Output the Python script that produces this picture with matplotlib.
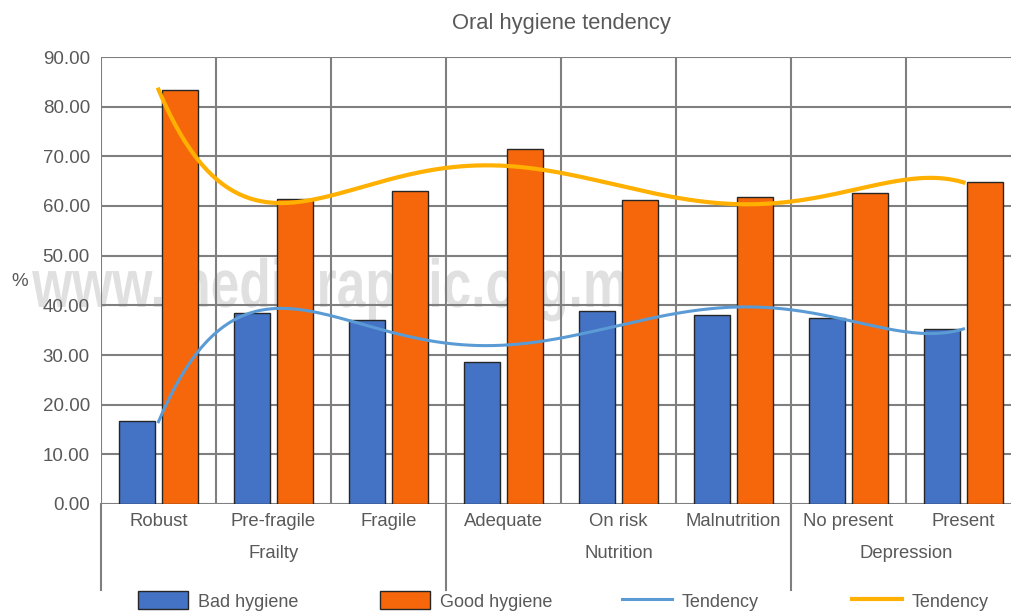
import numpy as np
import matplotlib.pyplot as plt
from matplotlib.patches import Patch, PathPatch
from matplotlib.lines import Line2D
from matplotlib.textpath import TextPath
from matplotlib.font_manager import FontProperties
from matplotlib.transforms import Affine2D

# data
categories = ['Robust', 'Pre-fragile', 'Fragile', 'Adequate', 'On risk',
              'Malnutrition', 'No present', 'Present']
groups = ['Frailty', 'Nutrition', 'Depression']
group_span = [(0, 2), (3, 5), (6, 7)]
bad_hygiene = [16.7, 38.5, 37.0, 28.6, 38.9, 38.1, 37.4, 35.2]
good_hygiene = [83.3, 61.5, 63.0, 71.5, 61.2, 61.9, 62.6, 64.8]
yticks = [0, 10, 20, 30, 40, 50, 60, 70, 80, 90]

plt.rcParams['font.family'] = ['Liberation Sans', 'DejaVu Sans']
txt = '#595959'
grid = '#7f7f7f'
blue, orange = '#4472C4', '#F5670A'
tblue, torange = '#5B9BD5', '#FFB000'

fig = plt.figure(figsize=(10.11, 6.12), dpi=100)
W, H = 1011, 612
ax = fig.add_axes([101 / W, (H - 504) / H, 920 / W, 447 / H])
ax.set_zorder(1)
ax.patch.set_alpha(0)

# condensed watermark behind everything (pixel coordinates)
tp = TextPath((0, 0), 'www.medigraphic.org.mx', size=68,
              prop=FontProperties(family='Liberation Sans', weight='bold'))
ext = tp.get_extents()
sx = 625 / ext.width
wm = Affine2D().translate(-ext.x0, 0).scale(sx, 1).translate(32, H - 307)
fig.patches.append(PathPatch(tp, transform=wm, facecolor='#e0e0e0', edgecolor='none',
                             zorder=0, figure=fig))

x = np.arange(len(categories))
bw = 0.313
ax.bar(x - 0.19, bad_hygiene, bw, color=blue, edgecolor='#262626', lw=1, zorder=3)
ax.bar(x + 0.19, good_hygiene, bw, color=orange, edgecolor='#262626', lw=1, zorder=3)

# polynomial trend lines
xs = np.linspace(0, 7, 300)
pb = np.polyfit(x, bad_hygiene, 5)
pg = np.polyfit(x, good_hygiene, 5)
ax.plot(xs, np.polyval(pb, xs), color=tblue, lw=2.2, zorder=4)
ax.plot(xs, np.polyval(pg, xs), color=torange, lw=3, zorder=4)

ax.set_xlim(-0.5, 7.5)
ax.set_ylim(0, 90)
ax.set_yticks(yticks)
ax.set_yticklabels(['%.2f' % v for v in yticks])
ax.tick_params(axis='y', length=0, pad=8, labelsize=13.5, labelcolor=txt)
ax.set_xticks([])
for s in ax.spines.values():
    s.set_visible(False)
for v in yticks:
    ax.axhline(v, color=grid, lw=1.5, zorder=1)
for k in range(9):
    ax.axvline(k - 0.5, color=grid, lw=1.5, zorder=1)

# axis extension and group separators below the plot
below = -86 / 447 * 90
for xv in [-0.5, 2.5, 5.5]:
    ax.plot([xv, xv], [0, below], color=grid, lw=1.5, clip_on=False)

for i, c in enumerate(categories):
    ax.text(i, -17 / 447 * 90, c, ha='center', va='center', fontsize=13.3, color=txt)
for g, (a, b) in zip(groups, group_span):
    ax.text((a + b) / 2, -49 / 447 * 90, g, ha='center', va='center', fontsize=13.3, color=txt)

fig.text(20 / W, 1 - 282 / H, '%', fontsize=13.5, color=txt, ha='center', va='center')
fig.text(561 / W, 1 - 24 / H, 'Oral hygiene tendency', fontsize=15.8, color=txt,
         ha='center', va='center')

# legend items placed one by one
handles = [Patch(facecolor=blue, edgecolor='#262626'),
           Patch(facecolor=orange, edgecolor='#262626'),
           Line2D([], [], color=tblue, lw=2.2),
           Line2D([], [], color=torange, lw=3)]
labels = ['Bad hygiene', 'Good hygiene', 'Tendency', 'Tendency']
starts = [138, 380, 622, 852]
for h, l, sx0 in zip(handles, labels, starts):
    fig.legend([h], [l], loc='center left', bbox_to_anchor=(sx0 / W, 1 - 601 / H),
               frameon=False, fontsize=13, labelcolor=txt, handlelength=2.75,
               handleheight=1.15, handletextpad=0.55, borderpad=0, borderaxespad=0)

fig.savefig('out.png', dpi=100)
